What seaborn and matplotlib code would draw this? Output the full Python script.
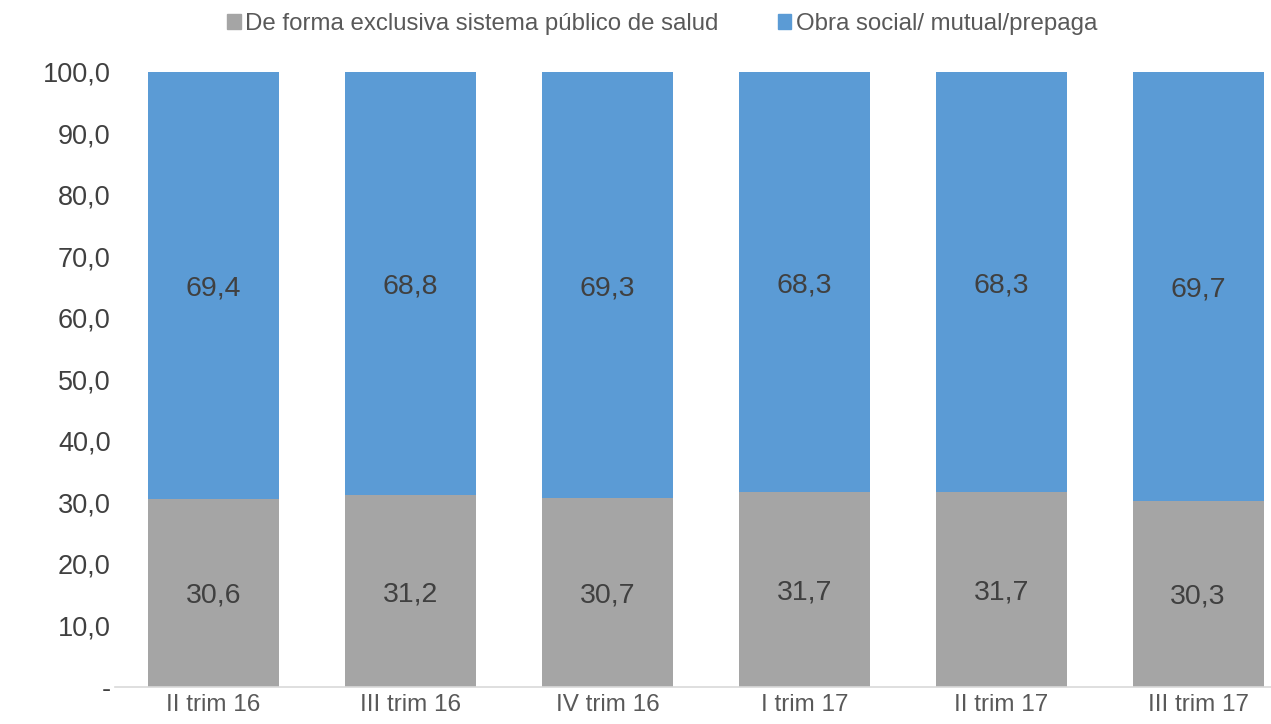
import pandas as pd
import seaborn as sns
import matplotlib.pyplot as plt
import matplotlib
from matplotlib.patches import Patch

matplotlib.use("Agg")

# ----------------------------
# Data
trimestres = ["II trim 16", "III trim 16", "IV trim 16", "I trim 17", "II trim 17", "III trim 17"]
publico = [30.6, 31.2, 30.7, 31.7, 31.7, 30.3]
obra_social = [69.4, 68.8, 69.3, 68.3, 68.3, 69.7]
yticks = [0, 10, 20, 30, 40, 50, 60, 70, 80, 90, 100]
# ----------------------------

gris = "#A5A5A5"
azul = "#5B9BD5"
texto = "#404040"
eje = "#595959"

sns.set_theme(style="white")
plt.rcParams["font.family"] = ["Liberation Sans", "DejaVu Sans"]

df = pd.DataFrame({"trim": trimestres, "publico": publico, "obra": obra_social})
df["total"] = df["publico"] + df["obra"]

fig = plt.figure(figsize=(12.71, 7.24), dpi=100)
ax = fig.add_axes([0.0905, 0.0511, 0.9095, 0.8495])

sns.barplot(data=df, x="trim", y="total", color=azul, width=0.665, saturation=1,
            linewidth=0, ax=ax)
sns.barplot(data=df, x="trim", y="publico", color=gris, width=0.665, saturation=1,
            linewidth=0, ax=ax)

for i, row in df.iterrows():
    ax.text(i, row["publico"] / 2, f"{row['publico']:.1f}".replace(".", ","),
            ha="center", va="center_baseline", fontsize=20.5, color=texto)
    ax.text(i, row["publico"] + row["obra"] / 2, f"{row['obra']:.1f}".replace(".", ","),
            ha="center", va="center_baseline", fontsize=20.5, color=texto)

ax.set_ylim(0, 100)
ax.set_xlim(-0.5, 5.37)
ax.set_yticks(yticks)
ax.set_yticklabels(["-" if v == 0 else f"{v:.1f}".replace(".", ",") for v in yticks],
                   fontsize=19.5, color=texto)
ax.tick_params(axis="x", labelsize=17.5, colors=eje, length=0, pad=5)
ax.tick_params(axis="y", length=0, pad=3)
ax.set_xlabel("")
ax.set_ylabel("")
for s in ["top", "right", "left"]:
    ax.spines[s].set_visible(False)
ax.spines["bottom"].set_color("#D9D9D9")
ax.spines["bottom"].set_linewidth(1.2)

handles = [Patch(color=gris, label="De forma exclusiva sistema público de salud"),
           Patch(color=azul, label="Obra social/ mutual/prepaga")]
fig.legend(handles=handles, loc="upper center", bbox_to_anchor=(0.521, 1.012), ncol=2,
           frameon=False, fontsize=17.3, handlelength=0.55, handleheight=0.55,
           handletextpad=0.2, columnspacing=2.45, labelcolor=eje)

fig.savefig("out.png", dpi=100)
